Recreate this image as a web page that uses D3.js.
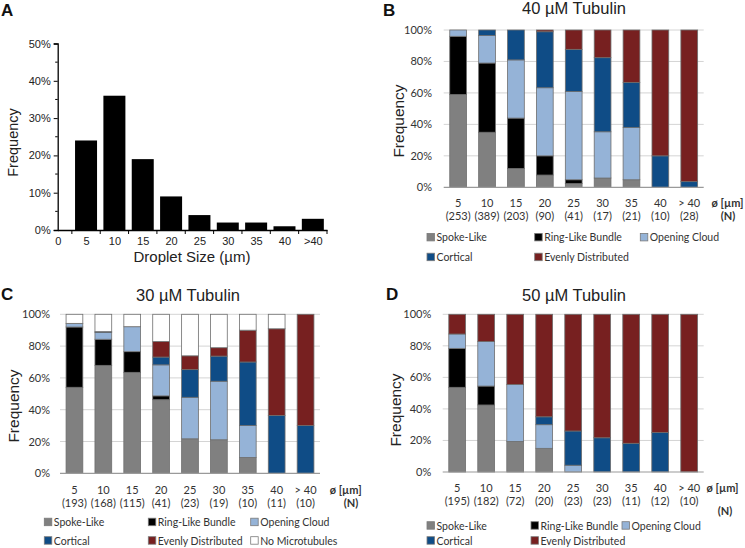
<!DOCTYPE html>
<html>
<head>
<meta charset="utf-8">
<script src="https://cdn.jsdelivr.net/npm/d3@7"></script>
<style>
  body { margin: 0; background: #fff; }
  svg { display: block; }
</style>
</head>
<body>
<svg id="chart" width="745" height="548"></svg>
<script>
// ---------- DATA ----------
// Panel A: droplet size distribution
const histLabels = ["0", "5", "10", "15", "20", "25", "30", "35", "40", ">40"];
const histBins = ["5", "10", "15", "20", "25", "30", "35", "40", ">40"];
const histValues = [24, 36, 19, 9, 4, 2, 2, 1, 3];
const histYTicks = [0, 10, 20, 30, 40, 50];

// Stacked panels
const sizeLabels = ["5", "10", "15", "20", "25", "30", "35", "40", "> 40"];
const pctTicks = [0, 20, 40, 60, 80, 100];
const seriesNames = ["Spoke-Like", "Ring-Like Bundle", "Opening Cloud", "Cortical", "Evenly Distributed", "No Microtubules"];

// B: 40 µM Tubulin
const nB        = [253, 389, 203, 90, 41, 17, 21, 10, 28];
const spokeB    = [59, 35, 12, 7.8, 2.4, 5.9, 4.8, 0, 0];
const ringB     = [37, 44, 32, 12.2, 2.4, 0, 0, 0, 0];
const openB     = [4, 17.5, 37, 43.3, 56.1, 29.4, 33.3, 0, 0];
const corticalB = [0, 3.5, 19, 35.6, 26.8, 47.1, 28.6, 20, 3.6];
const evenlyB   = [0, 0, 0, 1.1, 12.3, 17.6, 33.3, 80, 96.4];

// C: 30 µM Tubulin
const nC        = [193, 168, 115, 41, 23, 19, 10, 11, 10];
const spokeC    = [54.1, 67.9, 63.5, 46.3, 21.7, 21.1, 10, 0, 0];
const ringC     = [37.9, 16.4, 13.0, 2.4, 0, 0, 0, 0, 0];
const openC     = [2.3, 4.2, 15.7, 19.5, 26.1, 36.8, 20, 0, 0];
const corticalC = [0, 0.6, 0, 4.9, 17.4, 15.8, 40, 36.4, 30];
const evenlyC   = [0, 0, 0, 9.8, 8.7, 5.3, 20, 54.5, 70];
const noMtC     = [5.7, 10.9, 7.8, 17.1, 26.1, 21.0, 10, 9.1, 0];

// D: 50 µM Tubulin
const nD        = [195, 182, 72, 20, 23, 23, 11, 12, 10];
const spokeD    = [53.7, 42.5, 19.4, 15, 0, 0, 0, 0, 0];
const ringD     = [24.7, 12.0, 0, 0, 0, 0, 0, 0, 0];
const openD     = [9.1, 28.2, 36.1, 15, 4.3, 0, 0, 0, 0];
const corticalD = [0, 0, 0, 5, 21.7, 21.7, 18.2, 25, 0];
const evenlyD   = [12.5, 17.3, 44.5, 65, 74.0, 78.3, 81.8, 75, 100];

// ---------- STYLE ----------
const colors = {
  "Spoke-Like": "#808080",
  "Ring-Like Bundle": "#000000",
  "Opening Cloud": "#95b3d7",
  "Cortical": "#0f4c86",
  "Evenly Distributed": "#772020",
  "No Microtubules": "#ffffff"
};
const SERIF = "'Liberation Sans', Arial, sans-serif";
const CAL = "Lato, 'Open Sans', sans-serif";

const svg = d3.select("#chart");

// ---------- PANEL A ----------
(function () {
  const g = svg.append("g");
  const x = d3.scaleLinear().domain([0, 9.5]).range([57.7, 327]);
  const y = d3.scaleLinear().domain([0, 50]).range([230, 43.5]);

  g.selectAll("rect.bar").data(histValues).join("rect")
    .attr("class", "bar")
    .attr("x", (d, i) => x(i + 1) - 11)
    .attr("width", 22)
    .attr("y", d => y(d))
    .attr("height", d => y(0) - y(d))
    .attr("fill", "#000");

  // y axis
  const yAxis = d3.axisLeft(y).tickValues(histYTicks).tickFormat(d => d + "%").tickSize(4).tickPadding(3);
  const ya = g.append("g").attr("transform", "translate(57.7,0)").call(yAxis);
  ya.select(".domain").attr("stroke", "#000").attr("stroke-width", 1.3);
  ya.selectAll("text").attr("font-family", SERIF).attr("font-size", 11).attr("fill", "#222");
  // minor y ticks
  g.selectAll("line.ymin").data(d3.range(5, 50, 10)).join("line")
    .attr("x1", 57.7).attr("x2", 55.2).attr("y1", d => y(d)).attr("y2", d => y(d))
    .attr("stroke", "#000").attr("stroke-width", 1);

  // x axis
  const xAxis = d3.axisBottom(x).tickValues(d3.range(0, 10)).tickFormat(i => histLabels[i]).tickSize(0).tickPadding(7);
  const xa = g.append("g").attr("transform", "translate(0,230)").call(xAxis);
  xa.select(".domain").attr("stroke", "#000").attr("stroke-width", 1.3);
  xa.selectAll("text").attr("font-family", SERIF).attr("font-size", 11).attr("fill", "#222");
  g.selectAll("line.xt").data(d3.range(0.5, 9.6, 1)).join("line")
    .attr("x1", d => x(d)).attr("x2", d => x(d)).attr("y1", 230).attr("y2", 234)
    .attr("stroke", "#000").attr("stroke-width", 1);

  g.append("text").attr("x", 192).attr("y", 262).attr("text-anchor", "middle")
    .attr("font-family", SERIF).attr("font-size", 15).attr("fill", "#222").text("Droplet Size (µm)");
  g.append("text").attr("transform", "translate(18,142.5) rotate(-90)").attr("text-anchor", "middle")
    .attr("font-family", SERIF).attr("font-size", 14.5).attr("fill", "#222").text("Frequency");
  g.append("text").attr("x", 1).attr("y", 16).attr("font-family", SERIF).attr("font-weight", "bold")
    .attr("font-size", 17).attr("fill", "#111").text("A");
})();

// ---------- STACKED PANELS ----------
function stackedPanel(cfg) {
  const g = svg.append("g");
  const keys = seriesNames.filter(k => cfg.series[k]);
  const rows = sizeLabels.map((s, i) => {
    const r = { size: s, n: cfg.n[i] };
    keys.forEach(k => r[k] = cfg.series[k][i]);
    return r;
  });
  const x = d3.scaleBand().domain(sizeLabels).range([cfg.x0, cfg.x1]).paddingInner(0.42).paddingOuter(0.21);
  const y = d3.scaleLinear().domain([0, 100]).range([cfg.yb, cfg.yt]);

  // gridlines
  g.selectAll("line.grid").data(pctTicks.filter(d => d > 0)).join("line")
    .attr("x1", cfg.x0).attr("x2", cfg.x1).attr("y1", d => y(d)).attr("y2", d => y(d))
    .attr("stroke", "#d4d4d4").attr("stroke-width", 1);

  const stacked = d3.stack().keys(keys)(rows);
  g.selectAll("g.layer").data(stacked).join("g")
    .attr("fill", d => colors[d.key])
    .selectAll("rect").data(d => d.filter(v => v[1] - v[0] > 0)).join("rect")
    .attr("x", d => x(d.data.size))
    .attr("width", x.bandwidth())
    .attr("y", d => y(d[1]))
    .attr("height", d => y(d[0]) - y(d[1]))
    .attr("stroke", "#6e6e6e").attr("stroke-width", 0.8);

  // bottom axis line
  g.append("line").attr("x1", cfg.x0).attr("x2", cfg.x1).attr("y1", cfg.yb).attr("y2", cfg.yb)
    .attr("stroke", "#9a9a9a").attr("stroke-width", 1.2);

  // y tick labels
  const yAxis = d3.axisLeft(y).tickValues(pctTicks).tickFormat(d => d + "%").tickSize(0).tickPadding(cfg.x0 - cfg.ylab);
  const ya = g.append("g").attr("transform", `translate(${cfg.x0},0)`).call(yAxis);
  ya.select(".domain").remove();
  ya.selectAll("text").attr("font-family", CAL).attr("font-size", 11).attr("fill", "#333");

  // category labels
  const xa = g.append("g");
  xa.selectAll("text.cat").data(rows).join("text")
    .attr("x", d => x(d.size) + x.bandwidth() / 2).attr("y", cfg.catY)
    .attr("text-anchor", "middle").attr("font-family", CAL).attr("font-size", 11).attr("fill", "#333")
    .text(d => d.size);
  xa.selectAll("text.nn").data(rows).join("text")
    .attr("x", d => x(d.size) + x.bandwidth() / 2).attr("y", cfg.nY)
    .attr("text-anchor", "middle").attr("font-family", CAL).attr("font-size", 11).attr("fill", "#333")
    .text(d => "(" + d.n + ")");
  g.append("text").attr("x", cfg.phiX).attr("y", cfg.catY).attr("text-anchor", "middle")
    .attr("font-family", CAL).attr("font-weight", "bold").attr("font-size", 11).attr("fill", "#333").text("ø [µm]");
  g.append("text").attr("x", cfg.nLabX).attr("y", cfg.nLabY).attr("text-anchor", "middle")
    .attr("font-family", CAL).attr("font-weight", "bold").attr("font-size", 11).attr("fill", "#333").text("(N)");

  // titles
  g.append("text").attr("x", cfg.titleX).attr("y", cfg.titleY).attr("text-anchor", "middle")
    .attr("font-family", SERIF).attr("font-size", 16.5).attr("fill", "#222").text(cfg.title);
  g.append("text").attr("transform", `translate(${cfg.freqX},${cfg.freqY}) rotate(-90)`).attr("text-anchor", "middle")
    .attr("font-family", SERIF).attr("font-size", 15.5).attr("fill", "#222").text("Frequency");
  g.append("text").attr("x", cfg.letterX).attr("y", cfg.letterY).attr("font-family", SERIF).attr("font-weight", "bold")
    .attr("font-size", 17).attr("fill", "#111").text(cfg.letter);

  // legend
  const items = keys.map((k, i) => ({ key: k, col: i % 3, row: Math.floor(i / 3) }));
  const lg = g.selectAll("g.leg").data(items).join("g")
    .attr("transform", d => `translate(${cfg.legCols[d.col]},${cfg.legRows[d.row]})`);
  lg.append("rect").attr("x", 0).attr("y", -3.8).attr("width", 7.5).attr("height", 7.5)
    .attr("fill", d => colors[d.key]).attr("stroke", "#7a7a7a").attr("stroke-width", 0.8);
  lg.append("text").attr("x", 9.5).attr("y", 4).attr("font-family", CAL).attr("font-size", 10.5)
    .attr("fill", "#333").text(d => d.key);
}

stackedPanel({
  letter: "B", letterX: 383, letterY: 16,
  title: "40 µM Tubulin", titleX: 574, titleY: 14,
  x0: 443.7, x1: 703.7, yt: 30, yb: 187.3, ylab: 432,
  freqX: 404, freqY: 121,
  catY: 207, nY: 220, phiX: 727.5, nLabX: 728, nLabY: 220,
  n: nB,
  series: { "Spoke-Like": spokeB, "Ring-Like Bundle": ringB, "Opening Cloud": openB, "Cortical": corticalB, "Evenly Distributed": evenlyB },
  legCols: [427, 534.7, 640.3], legRows: [237.2, 257]
});

stackedPanel({
  letter: "C", letterX: 1, letterY: 300,
  title: "30 µM Tubulin", titleX: 188, titleY: 301,
  x0: 60, x1: 320, yt: 314.3, yb: 473.3, ylab: 50,
  freqX: 19, freqY: 406,
  catY: 494, nY: 507, phiX: 345.7, nLabX: 351, nLabY: 507,
  n: nC,
  series: { "Spoke-Like": spokeC, "Ring-Like Bundle": ringC, "Opening Cloud": openC, "Cortical": corticalC, "Evenly Distributed": evenlyC, "No Microtubules": noMtC },
  legCols: [44.3, 148.3, 250.7], legRows: [522, 540.5]
});

stackedPanel({
  letter: "D", letterX: 386, letterY: 300,
  title: "50 µM Tubulin", titleX: 574, titleY: 301,
  x0: 442.7, x1: 703.7, yt: 314.3, yb: 472, ylab: 431.3,
  freqX: 401, freqY: 410,
  catY: 492, nY: 505, phiX: 722.5, nLabX: 725, nLabY: 515,
  n: nD,
  series: { "Spoke-Like": spokeD, "Ring-Like Bundle": ringD, "Opening Cloud": openD, "Cortical": corticalD, "Evenly Distributed": evenlyD },
  legCols: [427, 531, 622], legRows: [525.5, 540.5]
});
</script>
</body>
</html>
